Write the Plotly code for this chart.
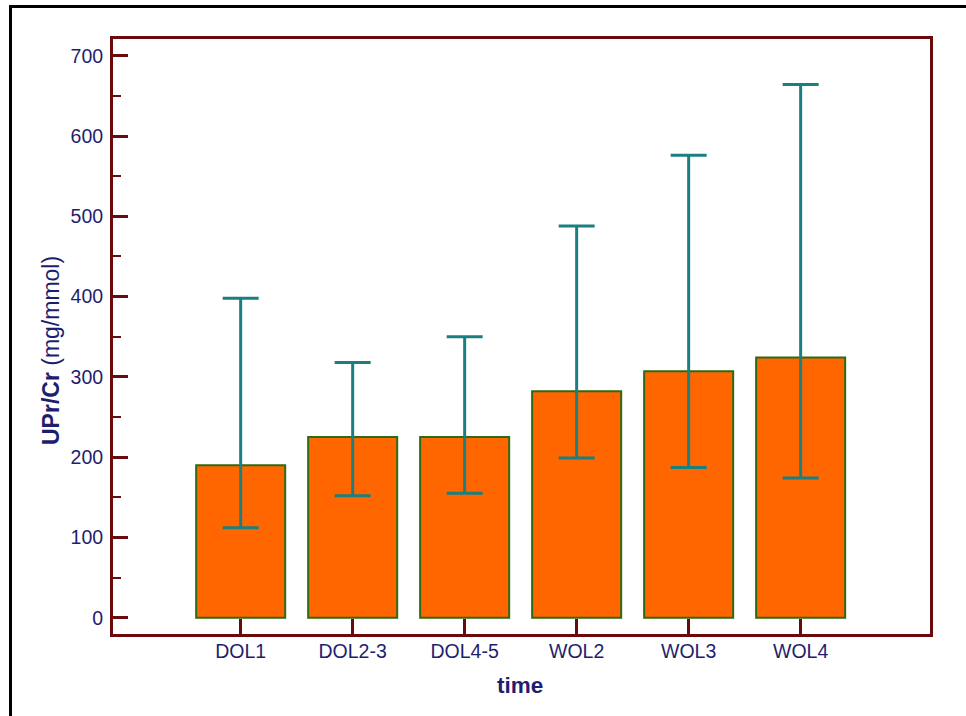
import plotly.graph_objects as go

categories = ["DOL1", "DOL2-3", "DOL4-5", "WOL2", "WOL3", "WOL4"]
means = [190, 225, 225, 282, 307, 324]
upper = [398, 318, 350, 488, 576, 664]
lower = [112, 152, 155, 199, 187, 174]

err_plus = [u - m for u, m in zip(upper, means)]
err_minus = [m - l for m, l in zip(means, lower)]

AXIS = "#6B0A0A"
NAVY = "#1E1E6E"

fig = go.Figure()
fig.add_trace(go.Bar(
    x=list(range(len(categories))),
    y=means,
    width=0.795,
    marker=dict(color="#FF6600", line=dict(color="#2E6B10", width=2)),
    error_y=dict(type="data", symmetric=False, array=err_plus, arrayminus=err_minus,
                 color="#1B7F80", thickness=3, width=18),
    showlegend=False,
))

L, R, T, B = 113, 36, 39, 82
W, H = 966, 716
pw, ph = W - L - R, H - T - B

def px_x(px):
    return (px - L) / pw

def px_y(py):
    return (H - B - py) / ph

fig.update_layout(
    width=W, height=H,
    margin=dict(l=L, r=R, t=T, b=B, pad=0),
    paper_bgcolor="white", plot_bgcolor="white",
    font=dict(family="Liberation Sans, Arial, sans-serif", color=NAVY),
)
fig.update_xaxes(
    range=[-1.14, 6.155],
    tickmode="array", tickvals=list(range(len(categories))), ticktext=categories,
    ticks="inside", ticklen=15, tickwidth=3, tickcolor=AXIS,
    showline=True, linecolor=AXIS, linewidth=3, mirror=True,
    showgrid=False, zeroline=False,
    tickfont=dict(size=19.5, color=NAVY),
    ticklabelstandoff=-2,
)
fig.update_yaxes(
    range=[-20.2, 720.8],
    tickmode="array", tickvals=[0, 100, 200, 300, 400, 500, 600, 700],
    ticks="inside", ticklen=15, tickwidth=3, tickcolor=AXIS,
    minor=dict(tickmode="array", tickvals=[50, 150, 250, 350, 450, 550, 650],
               ticks="inside", ticklen=8, tickwidth=2, tickcolor=AXIS),
    showline=True, linecolor=AXIS, linewidth=3, mirror=True,
    showgrid=False, zeroline=False,
    tickfont=dict(size=19.5, color=NAVY),
    ticklabelstandoff=3,
)

fig.add_annotation(
    x=px_x(51), y=px_y(351), xref="paper", yref="paper",
    text="<b>UPr/Cr</b> (mg/mmol)", textangle=-90, showarrow=False,
    font=dict(size=23, color=NAVY), xanchor="center", yanchor="middle",
)
fig.add_annotation(
    x=px_x(520), y=px_y(685), xref="paper", yref="paper",
    text="<b>time</b>", showarrow=False,
    font=dict(size=22.5, color=NAVY), xanchor="center", yanchor="middle",
)

fig.add_shape(
    type="rect", xref="paper", yref="paper",
    x0=px_x(10.5), x1=px_x(975), y0=px_y(725), y1=px_y(6.5),
    line=dict(color="black", width=3), fillcolor="rgba(0,0,0,0)", layer="above",
)

fig.write_html(
    "out.html",
    config={"displayModeBar": False},
    post_script="document.body.style.margin='0';document.body.style.overflow='hidden';",
)
